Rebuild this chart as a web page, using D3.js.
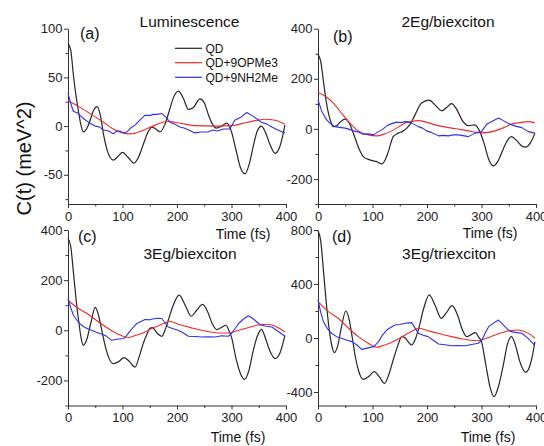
<!DOCTYPE html>
<html>
<head>
<meta charset="utf-8">
<script src="https://cdn.jsdelivr.net/npm/d3@7"></script>
<style>
  html, body { margin: 0; padding: 0; background: #fff; }
  svg { display: block; font-family: "Liberation Sans", Arial, sans-serif; }
  .tick text { fill: #222; }
</style>
</head>
<body>
<svg id="chart" width="544" height="446"></svg>
<script>
// Correlation functions C(t) in meV^2, time in fs: [t, value]
const lumQD = [[0,85],[5,78],[10,52],[15,30],[19,16],[23,3],[28,-6],[34,-3],[40,5],[46,15],[53,20],[59,12],[65,-8],[72,-25],[83,-35],[92,-31],[100,-27],[110,-32],[121,-38],[130,-31],[138,-19],[146,-7],[154,-1],[161,-3],[169,-6],[178,2],[186,16],[194,30],[203,36],[212,28],[221,17],[230,19],[242,28],[250,24],[258,11],[265,2],[272,-2],[282,0],[291,3],[300,-6],[308,-24],[316,-42],[325,-49],[333,-38],[341,-18],[348,-4],[355,0],[362,-6],[370,-18],[380,-28],[388,-22],[394,-10],[398,1]];
const lumOPMe3 = [[0,26],[20,20],[40,13],[65,4],[83,-3],[100,-7],[114,-8],[135,-5],[160,1],[183,5],[196,4],[215,2],[233,0.5],[270,0],[300,0.5],[330,4],[361,7],[380,6],[398,2]];
const lumNH2Me = [[0,34],[4,25],[10,15],[16,14],[22,11],[30,7],[40,3],[50,0],[58,-1],[65,-4],[75,-5],[83,-8],[90,-5],[95,-5],[102,-7],[108,-6],[115,-2],[123,1],[130,5],[141,11],[150,11],[157,12],[163,12],[172,13],[180,9],[187,4],[196,2],[205,-1],[213,-2],[221,-4],[233,-7],[245,-6],[257,-6],[265,-4],[274,-5],[285,-3],[297,-3],[306,6],[317,9],[328,14],[340,10],[355,4],[365,2],[374,-1],[385,-4],[398,-7]];

const bi2QD = [[0,296],[5,270],[10,190],[15,110],[20,55],[24,25],[28,9],[34,12],[42,30],[50,39],[56,28],[62,0],[68,-37],[75,-78],[83,-111],[95,-124],[108,-131],[117,-140],[123,-125],[129,-91],[138,-31],[147,-17],[155,-10],[163,3],[170,22],[178,56],[190,103],[204,115],[215,95],[227,72],[236,85],[245,101],[254,80],[264,36],[276,13],[287,16],[297,-11],[305,-60],[313,-120],[322,-148],[330,-130],[340,-80],[348,-45],[355,-31],[365,-48],[374,-68],[381,-73],[390,-55],[398,-17]];
const bi2OPMe3 = [[0,145],[15,128],[31,96],[45,58],[56,29],[65,8],[74,-8],[92,-24],[108,-28],[120,-22],[135,-8],[148,8],[160,23],[172,30],[184,33],[200,26],[215,16],[230,9],[245,3],[260,-2],[276,-8],[290,-14],[300,-16],[312,-14],[325,-8],[340,4],[355,19],[370,25],[386,29],[398,24]];
const bi2NH2Me = [[0,116],[4,90],[7,69],[12,50],[16,36],[22,22],[31,9],[40,6],[50,3],[58,-2],[65,-8],[74,-12],[83,-21],[92,-20],[102,-24],[110,-12],[117,-4],[123,6],[129,16],[137,22],[144,27],[152,25],[160,29],[166,28],[172,23],[178,16],[184,9],[192,3],[199,-8],[208,-14],[214,-20],[221,-28],[230,-26],[239,-28],[248,-24],[257,-24],[266,-27],[276,-31],[282,-24],[288,-17],[294,-14],[300,-11],[305,5],[310,19],[319,29],[325,36],[331,43],[337,37],[343,29],[349,22],[355,16],[364,10],[374,5],[380,-3],[386,-11],[392,-14],[398,-17]];

const bi3QD = [[0,367],[5,335],[10,230],[15,120],[20,30],[24,-30],[28,-60],[34,-40],[42,30],[50,91],[56,60],[62,0],[68,-60],[75,-110],[83,-133],[93,-125],[103,-109],[113,-125],[123,-147],[130,-110],[138,-53],[145,-15],[150,7],[155,11],[163,-10],[172,-24],[178,0],[184,40],[194,105],[204,140],[215,100],[226,56],[236,80],[247,103],[256,75],[265,25],[273,3],[282,12],[290,20],[296,-5],[300,-27],[308,-110],[316,-170],[324,-196],[332,-160],[340,-80],[348,-20],[355,4],[362,-30],[370,-80],[380,-113],[388,-95],[394,-55],[398,-20]];
const bi3OPMe3 = [[0,120],[19,87],[37,64],[56,33],[74,7],[92,-16],[111,-29],[122,-22],[135,-13],[154,7],[170,22],[178,29],[187,35],[200,26],[215,16],[230,8],[245,0],[260,-6],[276,-11],[294,-11],[310,-2],[325,7],[340,16],[349,21],[368,24],[380,16],[390,5],[398,-7]];
const bi3NH2Me = [[0,127],[5,90],[10,60],[17,38],[25,20],[34,8],[43,0],[52,-8],[62,-16],[71,-24],[80,-40],[90,-36],[102,-33],[106,-25],[111,-11],[118,8],[126,27],[134,35],[141,43],[150,42],[160,47],[166,48],[172,47],[178,30],[184,13],[193,6],[202,0],[211,-10],[221,-24],[233,-25],[245,-27],[258,-26],[270,-27],[282,-22],[294,-24],[300,-13],[306,5],[313,27],[322,45],[331,58],[337,50],[343,40],[349,28],[355,20],[364,16],[374,13],[386,-5],[398,-24]];

const tri3QD = [[0,795],[5,720],[10,500],[15,270],[20,80],[25,-50],[30,-108],[36,-60],[43,80],[51,200],[57,140],[63,0],[69,-150],[75,-250],[83,-306],[93,-285],[103,-249],[113,-290],[122,-336],[130,-270],[138,-163],[146,-60],[154,10],[160,0],[166,-30],[172,-52],[178,-15],[184,59],[194,220],[204,319],[215,240],[226,146],[236,190],[246,240],[256,170],[265,60],[273,10],[281,25],[289,40],[295,5],[300,-27],[308,-200],[316,-370],[323,-434],[331,-360],[340,-200],[348,-40],[355,10],[362,-50],[370,-170],[381,-254],[388,-215],[394,-120],[398,-27]];
const tri3OPMe3 = [[0,269],[19,195],[37,146],[56,72],[74,10],[92,-39],[108,-69],[120,-55],[135,-34],[148,-5],[160,22],[172,50],[185,72],[200,56],[215,40],[230,24],[245,10],[260,-3],[276,-15],[294,-20],[310,0],[325,22],[340,42],[349,52],[368,59],[380,45],[390,25],[398,-2]];
const tri3NH2Me = [[0,282],[5,190],[10,121],[17,70],[25,35],[34,10],[43,-2],[52,-15],[62,-27],[71,-50],[80,-84],[90,-75],[102,-64],[106,-50],[111,-27],[118,20],[126,59],[134,80],[141,96],[150,100],[160,109],[166,112],[172,114],[178,75],[184,35],[193,20],[202,10],[211,-15],[221,-44],[233,-50],[245,-57],[258,-55],[270,-57],[282,-48],[294,-39],[300,-20],[306,30],[313,84],[322,110],[331,133],[337,110],[343,84],[349,60],[355,47],[364,40],[374,35],[386,-5],[398,-57]];

const seriesNames = ["QD", "QD+9OPMe3", "QD+9NH2Me"];
const seriesColors = ["#262626", "#ee2b2b", "#2f2fee"];
const panelTitles = ["Luminescence", "2Eg/biexciton", "3Eg/biexciton", "3Eg/triexciton"];
const panelTags = ["(a)", "(b)", "(c)", "(d)"];
const timeTicks = [0, 100, 200, 300, 400];
const timeMinor = [50, 150, 250, 350];
const yDomains = [[-80, 100], [-300, 400], [-300, 400], [-500, 800]];
const yTicks = [[-50, 0, 50, 100], [-200, 0, 200, 400], [-200, 0, 200, 400], [-400, 0, 400, 800]];
const yMinor = [[-75, -25, 25, 75], [-300, -100, 100, 300], [-300, -100, 100, 300], [-200, 200, 600]];
const panelData = [
  [lumQD, lumOPMe3, lumNH2Me],
  [bi2QD, bi2OPMe3, bi2NH2Me],
  [bi3QD, bi3OPMe3, bi3NH2Me],
  [tri3QD, tri3OPMe3, tri3NH2Me]
];

// Panel frames and label positions
const frames = [
  { x0: 68, x1: 286, top: 28.7, bottom: 204, titleX: 189.5, titleY: 27, tagX: 80, tagY: 39 },
  { x0: 318, x1: 536, top: 28.7, bottom: 204, titleX: 448, titleY: 27, tagX: 333, tagY: 42 },
  { x0: 68, x1: 286, top: 230, bottom: 405.5, titleX: 190, titleY: 259, tagX: 78, tagY: 242 },
  { x0: 318, x1: 536, top: 230, bottom: 405.5, titleX: 449, titleY: 259, tagX: 332, tagY: 242 }
];
const xLabelY = [239, 238, 442, 442];
const xLabelX = [243, 490, 238, 488];

const svg = d3.select("#chart");
const plainNum = d => String(d);

frames.forEach((f, i) => {
  const x = d3.scaleLinear().domain([0, 400]).range([f.x0, f.x1]);
  const y = d3.scaleLinear().domain(yDomains[i]).range([f.bottom, f.top]);
  const g = svg.append("g");

  // minor ticks
  g.append("g").attr("transform", `translate(0,${f.bottom})`)
    .call(d3.axisBottom(x).tickValues(timeMinor).tickSize(2.5).tickFormat(""))
    .call(a => a.select(".domain").remove());
  g.append("g").attr("transform", `translate(${f.x0},0)`)
    .call(d3.axisLeft(y).tickValues(yMinor[i]).tickSize(2.5).tickFormat(""))
    .call(a => a.select(".domain").remove());

  // major axes
  const xa = g.append("g").attr("transform", `translate(0,${f.bottom})`)
    .call(d3.axisBottom(x).tickValues(timeTicks).tickFormat(plainNum).tickSize(4).tickSizeOuter(0).tickPadding(3.5));
  const ya = g.append("g").attr("transform", `translate(${f.x0},0)`)
    .call(d3.axisLeft(y).tickValues(yTicks[i]).tickFormat(plainNum).tickSize(4).tickSizeOuter(0).tickPadding(1.5));
  [xa, ya].forEach(a => a.selectAll("text").attr("font-size", 13).attr("font-family", "Liberation Sans, Arial, sans-serif"));
  g.selectAll(".domain, .tick line").attr("stroke", "#333").attr("stroke-width", 1);

  // curves
  panelData[i].forEach((s, k) => {
    const line = d3.line()
      .x(d => x(d[0])).y(d => y(d[1]))
      .curve(k === 2 ? d3.curveLinear : d3.curveMonotoneX);
    g.append("path").datum(s)
      .attr("d", line)
      .attr("fill", "none")
      .attr("stroke", seriesColors[k])
      .attr("stroke-width", k === 0 ? 1.2 : 1.1)
      .attr("stroke-linejoin", "round");
  });

  // titles and labels
  g.append("text").attr("x", f.titleX).attr("y", f.titleY)
    .attr("text-anchor", "middle").attr("font-size", 15.5).attr("fill", "#111")
    .text(panelTitles[i]);
  g.append("text").attr("x", f.tagX).attr("y", f.tagY)
    .attr("font-size", 16).attr("fill", "#111").text(panelTags[i]);
  g.append("text").attr("x", xLabelX[i]).attr("y", xLabelY[i])
    .attr("text-anchor", "middle").attr("font-size", 14).attr("fill", "#111")
    .text("Time (fs)");
});

// legend
const legend = svg.append("g");
const legendY = [48.3, 62.7, 77.3];
seriesNames.forEach((n, k) => {
  legend.append("line").attr("x1", 175).attr("x2", 202).attr("y1", legendY[k]).attr("y2", legendY[k])
    .attr("stroke", seriesColors[k]).attr("stroke-width", 1.2);
  legend.append("text").attr("x", 205.5).attr("y", legendY[k]).attr("dy", "0.36em")
    .attr("font-size", 12).attr("fill", "#111").text(n);
});

// shared y label
svg.append("text").attr("transform", "translate(31,158.5) rotate(-90)")
  .attr("text-anchor", "middle").attr("font-size", 20).attr("fill", "#111")
  .text("C(t) (meV^2)");
</script>
</body>
</html>
